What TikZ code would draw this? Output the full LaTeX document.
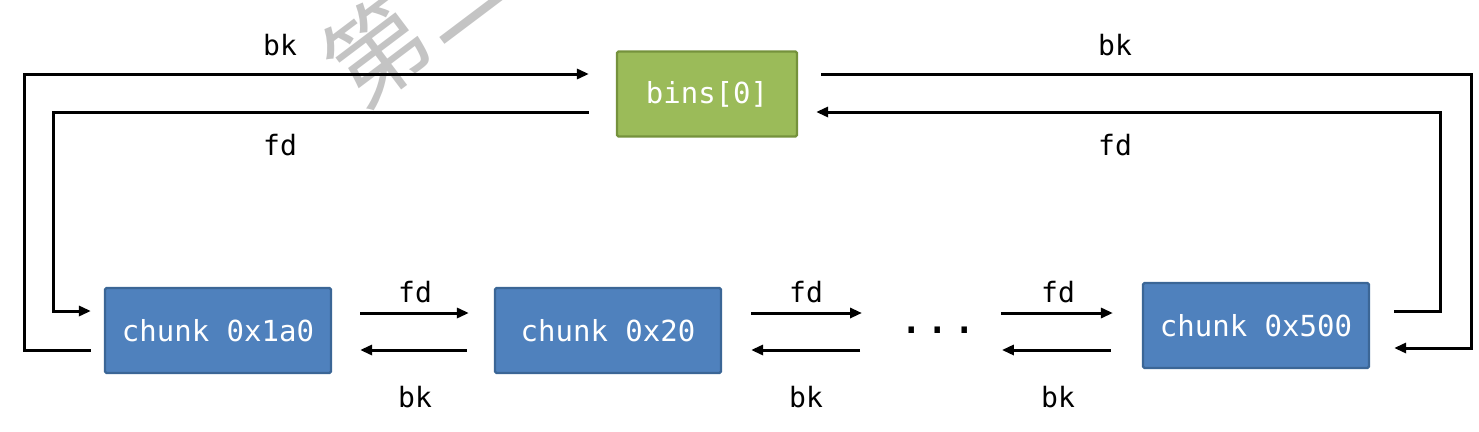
\documentclass[tikz,border=0pt]{standalone}
\usepackage{fontspec}
\setmonofont{DejaVu Sans Mono}
\newfontfamily\cjk{Noto Sans CJK SC}
\usetikzlibrary{arrows.meta,calc}
\definecolor{boxblue}{HTML}{4F81BD}
\definecolor{boxblueline}{HTML}{3B6696}
\definecolor{boxgreen}{HTML}{9BBB59}
\definecolor{boxgreenline}{HTML}{75923C}
\definecolor{wmgray}{HTML}{C4C4C4}
\tikzset{
  box/.style={draw, line width=2.2pt, rounded corners=1.5pt, minimum height=85pt,
    font=\ttfamily\fontsize{29}{32}\selectfont, text=white, inner sep=0pt},
  chunkbox/.style={box, fill=boxblue, draw=boxblueline, minimum width=226pt},
  binbox/.style={box, fill=boxgreen, draw=boxgreenline, minimum width=180pt},
  arr/.style={line width=3pt, -{Triangle[length=12pt,width=10pt]}},
  lbl/.style={font=\ttfamily\fontsize{28}{30}\selectfont, text=black, inner sep=0pt}
}
\begin{document}
\begin{tikzpicture}[x=1pt,y=-1pt]
\useasboundingbox (0,0) rectangle (1479,431);
\begin{scope}
\clip (0,0) rectangle (1479,431);
\node[text=wmgray, font=\cjk\fontsize{102}{110}\selectfont, rotate=37, anchor=west, inner sep=0pt] (wm) at (336,80) {第二大};
\end{scope}
% nodes
\node[binbox] (b) at (707,94) {\raisebox{-2pt}{bins[0]}};
\node[chunkbox] (c1) at (218,330.5) {chunk 0x1a0};
\node[chunkbox] (c2) at (608,330.5) {chunk 0x20};
\node[chunkbox] (c3) at (1256,325.5) {chunk 0x500};
\node[font=\ttfamily\fontsize{44}{46}\selectfont, inner sep=0pt] (d) at (938,330) {...};
% outer loops
\draw[arr] ($(c1.west)+(-13,19.5)$) -- ++(-66,0) |- ($(b.west)+(-27,-20)$);
\draw[arr] ($(b.west)+(-27,18)$) -| ($(c1.west)+(-50,-19.5)$) -- ($(c1.west)+(-13,-19.5)$);
\draw[arr] ($(b.east)+(23,-20)$) -| ($(c3.east)+(101,22.5)$) -- ($(c3.east)+(24,22.5)$);
\draw[arr] ($(c3.east)+(24,-14.5)$) -- ++(46,0) |- ($(b.east)+(18,18)$);
% middle arrows
\draw[arr] ($(c1.east)+(28,-17.5)$) -- ($(c2.west)+(-25,-17.5)$);
\draw[arr] ($(c2.west)+(-27,19.5)$) -- ($(c1.east)+(28,19.5)$);
\draw[arr] ($(c2.east)+(29,-17.5)$) -- ($(d.center)+(-76,-17)$);
\draw[arr] ($(d.center)+(-78,20)$) -- ($(c2.east)+(29,19.5)$);
\draw[arr] ($(c3.west)+(-141,-12.5)$) -- ($(c3.west)+(-29,-12.5)$);
\draw[arr] ($(c3.west)+(-31,24.5)$) -- ($(c3.west)+(-140,24.5)$);
% labels
\node[lbl] (l1) at (280,45) {bk};
\node[lbl] (l2) at (280,145) {fd};
\node[lbl] (l3) at (1115,45) {bk};
\node[lbl] (l4) at (1115,145) {fd};
\node[lbl] (l5) at (415,292) {fd};
\node[lbl] (l6) at (415,397) {bk};
\node[lbl] (l7) at (806,292) {fd};
\node[lbl] (l8) at (806,397) {bk};
\node[lbl] (l9) at (1058,292) {fd};
\node[lbl] (l10) at (1058,397) {bk};
\end{tikzpicture}
\end{document}
